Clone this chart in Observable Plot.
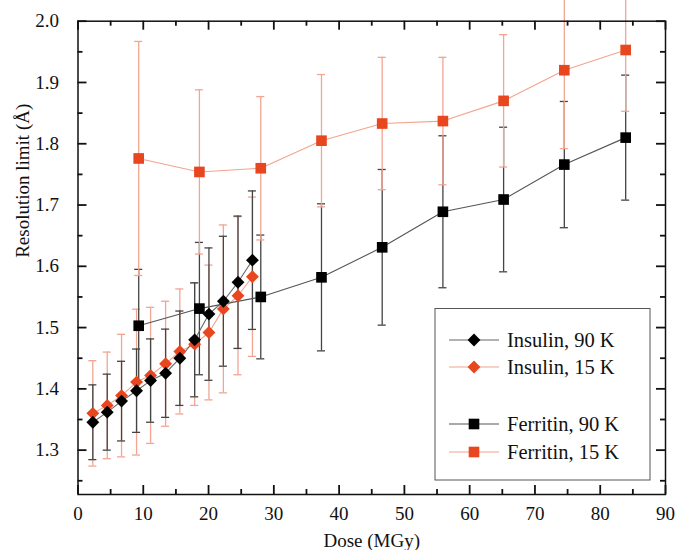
<!DOCTYPE html>
<html>
<head>
<meta charset="utf-8">
<script src="https://cdn.jsdelivr.net/npm/d3@7"></script>
<script src="https://cdn.jsdelivr.net/npm/@observablehq/plot@0.6"></script>
<style>
  html, body { margin: 0; padding: 0; background: #fff; }
  #chart { width: 676px; height: 550px; }
</style>
</head>
<body>
<div id="chart"></div>
<script>
// ---- Data ----
const insulinDose   = [2.27, 4.48, 6.67, 8.97, 11.12, 13.42, 15.6, 17.87, 20.06, 22.27, 24.51, 26.72];
const insulin90     = [1.3455, 1.362, 1.380, 1.397, 1.4135, 1.4255, 1.450, 1.480, 1.522, 1.543, 1.574, 1.610];
const insulin90Err  = [0.061, 0.062, 0.065, 0.068, 0.068, 0.072, 0.077, 0.093, 0.108, 0.106, 0.108, 0.113];
const insulin15     = [1.360, 1.373, 1.389, 1.411, 1.422, 1.441, 1.461, 1.473, 1.492, 1.5305, 1.552, 1.583];
const insulin15Err  = [0.086, 0.087, 0.100, 0.119, 0.111, 0.102, 0.102, 0.100, 0.110, 0.137, 0.129, 0.130];

const ferritinDose  = [9.3, 18.6, 28.0, 37.3, 46.6, 55.9, 65.2, 74.5, 83.9];
const ferritin90    = [1.503, 1.531, 1.550, 1.582, 1.631, 1.689, 1.709, 1.766, 1.810];
const ferritin90Err = [0.092, 0.108, 0.101, 0.120, 0.127, 0.124, 0.118, 0.103, 0.102];
const ferritin15    = [1.776, 1.754, 1.760, 1.805, 1.833, 1.837, 1.870, 1.920, 1.953];
const ferritin15Err = [0.191, 0.134, 0.117, 0.108, 0.108, 0.104, 0.108, 0.128, 0.100];

const xMajor = [0, 10, 20, 30, 40, 50, 60, 70, 80, 90];
const xMinor = [5, 15, 25, 35, 45, 55, 65, 75, 85];
const yMajor = [1.3, 1.4, 1.5, 1.6, 1.7, 1.8, 1.9, 2.0];
const yMinor = [1.25, 1.35, 1.45, 1.55, 1.65, 1.75, 1.85, 1.95];

const legendLabels = ["Insulin, 90 K", "Insulin, 15 K", "Ferritin, 90 K", "Ferritin, 15 K"];
const xTitle = "Dose (MGy)";
const yTitle = "Resolution limit (Å)";

// ---- Layout / styling ----
const W = 676, H = 550;
const M = {left: 77.5, right: 11, top: 20.7, bottom: 56};
const plotW = W - M.left - M.right, plotH = H - M.top - M.bottom;
const xDomain = [0, 90], yDomain = [1.2276, 2.0];
const MAJ = 9, MIN = 5; // tick lengths in px
const ORANGE = "#e8461e";
const INK = "#111";
const FONT = "'Liberation Serif', 'Times New Roman', serif";
const series = [
  {label: legendLabels[1], dose: insulinDose, v: insulin15, e: insulin15Err, fill: ORANGE, line: "#f2a48e", bar: "#f1a593", symbol: "diamond2", r: 5.8},
  {label: legendLabels[0], dose: insulinDose, v: insulin90, e: insulin90Err, fill: "#000", line: "#666", bar: "#444", symbol: "diamond2", r: 5.8},
  {label: legendLabels[2], dose: ferritinDose, v: ferritin90, e: ferritin90Err, fill: "#000", line: "#555", bar: "#444", symbol: "square", r: 6.0},
  {label: legendLabels[3], dose: ferritinDose, v: ferritin15, e: ferritin15Err, fill: ORANGE, line: "#f2a48e", bar: "#f1a593", symbol: "square", r: 6.0}
];
const rows = s => s.dose.map((d, i) => ({x: d, v: s.v[i], e: s.e[i]}));
const capHalf = 0.62; // half cap width in dose units

const barMarks = [], lineMarks = [], dotMarks = [];
for (const s of series) {
  const data = rows(s);
  barMarks.push(
    Plot.ruleX(data, {x: "x", y1: d => d.v - d.e, y2: d => d.v + d.e, stroke: s.bar, strokeWidth: 1.3}),
    Plot.ruleY(data, {y: d => d.v + d.e, x1: d => d.x - capHalf, x2: d => d.x + capHalf, stroke: s.bar, strokeWidth: 1.3}),
    Plot.ruleY(data, {y: d => d.v - d.e, x1: d => d.x - capHalf, x2: d => d.x + capHalf, stroke: s.bar, strokeWidth: 1.3})
  );
  lineMarks.push(Plot.line(data, {x: "x", y: "v", stroke: s.line, strokeWidth: 1.1}));
  dotMarks.push(Plot.dot(data, {x: "x", y: "v", symbol: s.symbol, r: s.r, fill: s.fill, stroke: "none"}));
}

// inward ticks as short rules; length converted from px to data units
const ky = (yDomain[1] - yDomain[0]) / plotH;  // data units per px (y)
const kx = (xDomain[1] - xDomain[0]) / plotW;  // data units per px (x)
const TK = {stroke: INK, strokeWidth: 1.8};
const xTickRows = (vals, len) => vals.flatMap(v => [
  {x: v, a: yDomain[0], b: yDomain[0] + len * ky},
  {x: v, a: yDomain[1], b: yDomain[1] - len * ky}
]);
const yTickRows = (vals, len) => vals.flatMap(v => [
  {y: v, a: xDomain[0], b: xDomain[0] + len * kx},
  {y: v, a: xDomain[1], b: xDomain[1] - len * kx}
]);
const xTickData = [...xTickRows(xMajor, MAJ), ...xTickRows(xMinor, MIN)];
const yTickData = [...yTickRows(yMajor, MAJ), ...yTickRows(yMinor, MIN)];

const chart = Plot.plot({
  width: W,
  height: H,
  marginLeft: M.left,
  marginRight: M.right,
  marginTop: M.top,
  marginBottom: M.bottom,
  style: {fontFamily: FONT, fontSize: "19px", color: INK, background: "#fff"},
  x: {domain: xDomain},
  y: {domain: yDomain},
  marks: [
    ...barMarks,
    ...lineMarks,
    ...dotMarks,
    Plot.axisX({ticks: xMajor, anchor: "bottom", tickSize: 0, tickPadding: 12, tickFormat: d => String(d), label: null}),
    Plot.axisY({ticks: yMajor, anchor: "left", tickSize: 0, tickPadding: 19, tickFormat: d => d.toFixed(1), label: null}),
    Plot.frame({stroke: INK, strokeWidth: 1.5}),
    Plot.ruleX(xTickData, {...TK, x: "x", y1: "a", y2: "b"}),
    Plot.ruleY(yTickData, {...TK, y: "y", x1: "a", x2: "b"}),
    Plot.text([xTitle], {text: d => d, frameAnchor: "bottom", dy: 46, lineAnchor: "middle", fontSize: 19}),
    Plot.text([yTitle], {text: d => d, frameAnchor: "left", dx: -55.5, rotate: -90, lineAnchor: "middle", fontSize: 19})
  ]
});
document.getElementById("chart").appendChild(chart);

const svgNode = chart.tagName.toLowerCase() === "svg" ? chart : chart.querySelector("svg");
const svg = d3.select(svgNode);

// ---- Legend ----
const legend = svg.append("g")
  .attr("font-family", FONT).attr("font-size", 20.5).attr("fill", INK)
  .attr("text-anchor", "start");
legend.append("rect").attr("x", 435).attr("y", 308.5).attr("width", 215).attr("height", 171.5)
  .attr("fill", "#fff").attr("stroke", "#555").attr("stroke-width", 1);
const legendItems = [series[1], series[0], series[2], series[3]];
const rowY = [340, 367, 424, 452];
legendItems.forEach((s, i) => {
  const y = rowY[i];
  legend.append("line").attr("x1", 449).attr("x2", 499).attr("y1", y).attr("y2", y)
    .attr("stroke", s.line).attr("stroke-width", 1.1);
  const sym = s.symbol === "square" ? d3.symbolSquare : d3.symbolDiamond2;
  legend.append("path").attr("transform", `translate(474,${y})`)
    .attr("d", d3.symbol(sym, Math.PI * s.r * s.r)()).attr("fill", s.fill);
  legend.append("text").attr("x", 507).attr("y", y).attr("dy", "0.35em")
    .attr("text-anchor", "start").text(s.label);
});
</script>
</body>
</html>
